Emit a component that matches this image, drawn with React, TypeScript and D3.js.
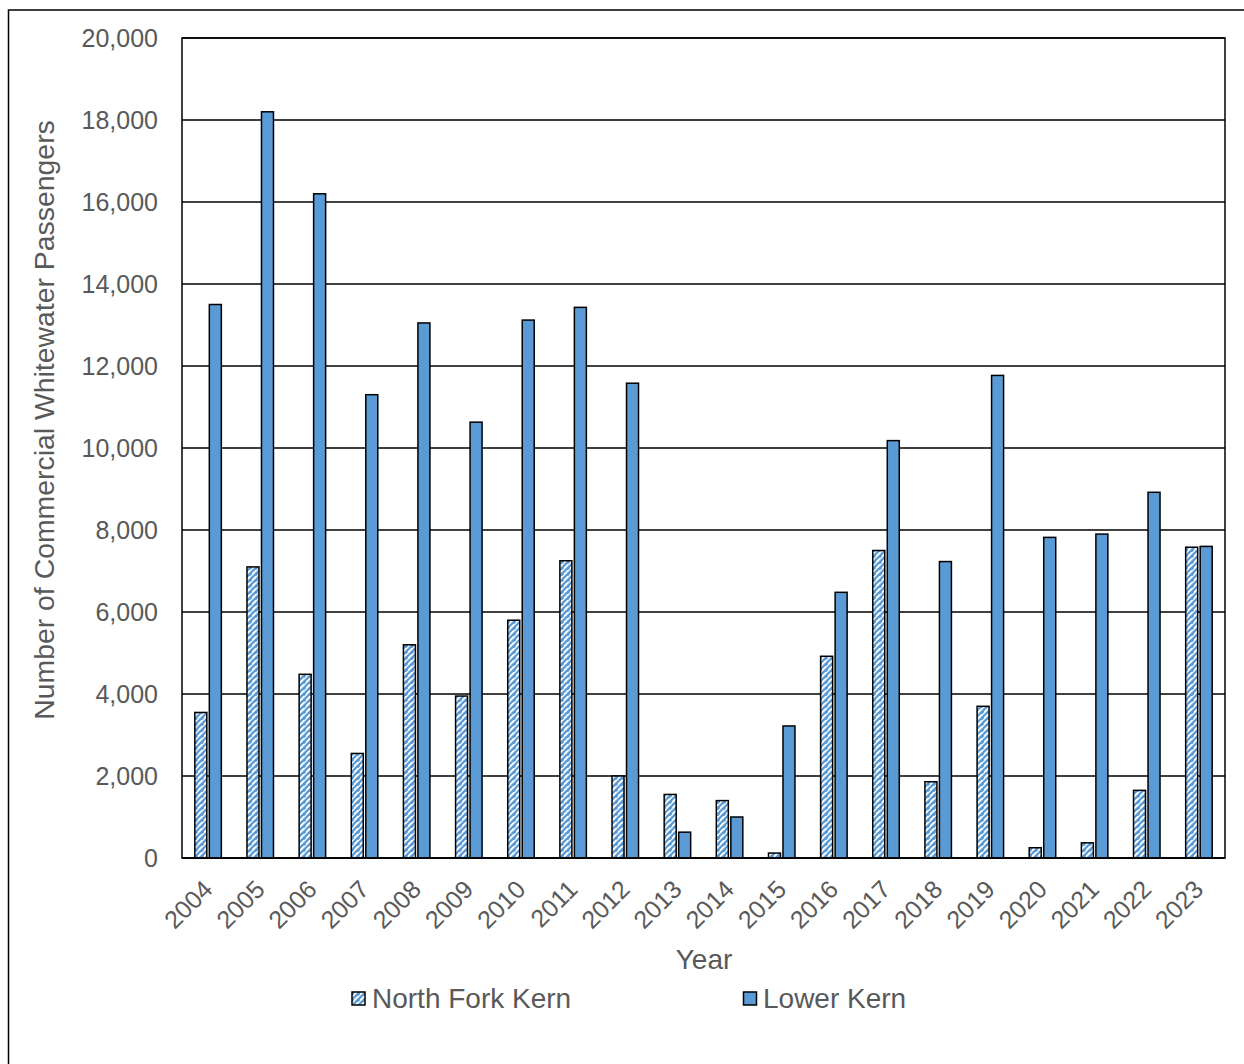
import React from "react";
import * as d3 from "d3";

const years = ["2004","2005","2006","2007","2008","2009","2010","2011","2012","2013","2014","2015","2016","2017","2018","2019","2020","2021","2022","2023"];
const northFork = [3550,7100,4480,2550,5200,3950,5800,7250,2000,1550,1400,120,4920,7500,1860,3700,250,370,1650,7580];
const lowerKern = [13500,18200,16200,11300,13050,10630,13120,13430,11580,630,1000,3220,6480,10180,7230,11770,7820,7900,8920,7600];
const yTicks = [0,2000,4000,6000,8000,10000,12000,14000,16000,18000,20000];
const seriesNames = ["North Fork Kern", "Lower Kern"];

const W = 1244, H = 1064;
const L = 182, R = 1225, T = 38, B = 858;
const BLUE = "#5B9BD5";
const TXT = "#595959";
const FONT = "'Liberation Sans', Arial, sans-serif";

export default function App() {
  const x = d3.scaleBand<string>().domain(years).range([L, R]).paddingInner(0).paddingOuter(0);
  const y = d3.scaleLinear().domain([0, 20000]).range([B, T]);
  const bw = 12, gap = 2.5;
  const fmt = d3.format(",");
  return (
    <svg width={W} height={H} style={{ position: "absolute", left: 0, top: 0, background: "#fff" }}>
      <defs>
        <pattern id="hatch" patternUnits="userSpaceOnUse" width="6" height="6">
          <rect width="6" height="6" fill="#fff" />
          <path d="M-1,7 L7,-1 L7,3.3 L3.3,7 Z M-1,4.3 L4.3,-1 L-1,-1 Z" fill={BLUE} />
        </pattern>
      </defs>
      <rect x={8.5} y={10} width={W} height={H} fill="#fff" stroke="#000" strokeWidth={1.5} />
      {yTicks.map((t) => (
        <g key={t}>
          <line x1={L} x2={R} y1={y(t)} y2={y(t)} stroke="#000" strokeWidth={1.5} />
          <text x={158} y={y(t)} dy="0.35em" textAnchor="end" fontSize={25} fill={TXT} fontFamily={FONT}>{fmt(t)}</text>
        </g>
      ))}
      <rect x={L} y={T} width={R - L} height={B - T} fill="none" stroke="#000" strokeWidth={1.5} />
      {years.map((yr, i) => {
        const c = (x(yr) as number) + x.bandwidth() / 2;
        return (
          <g key={yr}>
            <rect x={c - gap / 2 - bw} y={y(northFork[i])} width={bw} height={B - y(northFork[i])} fill="url(#hatch)" stroke="#000" strokeWidth={1.5} />
            <rect x={c + gap / 2} y={y(lowerKern[i])} width={bw} height={B - y(lowerKern[i])} fill={BLUE} stroke="#000" strokeWidth={1.5} />
            <text transform={`translate(${c + 6},${891}) rotate(-45)`} textAnchor="end" fontSize={25} fill={TXT} fontFamily={FONT}>{yr}</text>
          </g>
        );
      })}
      <line x1={L} x2={R} y1={B} y2={B} stroke="#000" strokeWidth={1.5} />
      <text transform={`translate(54,420) rotate(-90)`} textAnchor="middle" fontSize={28.4} fill={TXT} fontFamily={FONT}>Number of Commercial Whitewater Passengers</text>
      <text x={704} y={969} textAnchor="middle" fontSize={28} fill={TXT} fontFamily={FONT}>Year</text>
      <g>
        <rect x={352} y={992} width={13} height={13} fill="url(#hatch)" stroke="#000" strokeWidth={1.5} />
        <text x={372} y={1008} fontSize={28} fill={TXT} fontFamily={FONT}>{seriesNames[0]}</text>
        <rect x={743.5} y={992} width={13} height={13} fill={BLUE} stroke="#000" strokeWidth={1.5} />
        <text x={763} y={1008} fontSize={28} fill={TXT} fontFamily={FONT}>{seriesNames[1]}</text>
      </g>
    </svg>
  );
}
